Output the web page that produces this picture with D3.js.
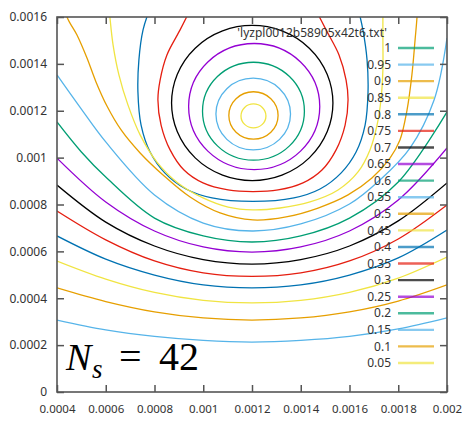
<!DOCTYPE html>
<html>
<head>
<meta charset="utf-8">
<script src="https://cdn.jsdelivr.net/npm/d3@7"></script>
<style>
  body { margin: 0; background: #fff; }
  svg { display: block; }
</style>
</head>
<body>
<svg id="chart" width="462" height="428"></svg>
<script>
// Contour coordinates are written in units of 1e-4 (same units as the axes / 1e-4)
const U = 1e-4;

// Contour levels and legend order
const levels = [0.05, 0.1, 0.15, 0.2, 0.25, 0.3, 0.35, 0.4, 0.45, 0.5,
                0.55, 0.6, 0.65, 0.7, 0.75, 0.8, 0.85, 0.9, 0.95, 1];
const legendLabels = ["1", "0.95", "0.9", "0.85", "0.8", "0.75", "0.7", "0.65", "0.6", "0.55",
                      "0.5", "0.45", "0.4", "0.35", "0.3", "0.25", "0.2", "0.15", "0.1", "0.05"];
const legendTitle = "'lyzpl0012b58905x42t6.txt'";

// gnuplot line-type colours, cycling from the lowest level upward
const colourCycle = ["#f0e442", "#e69f00", "#56b4e9", "#009e73",
                     "#9400d3", "#000000", "#e51e10", "#0072b2"];

// Axis ticks
const xTickValues = [0.0004, 0.0006, 0.0008, 0.001, 0.0012, 0.0014, 0.0016, 0.0018, 0.002];
const xTickLabels = ["0.0004", "0.0006", "0.0008", "0.001", "0.0012", "0.0014", "0.0016", "0.0018", "0.002"];
const yTickValues = [0, 0.0002, 0.0004, 0.0006, 0.0008, 0.001, 0.0012, 0.0014, 0.0016];
const yTickLabels = ["0", "0.0002", "0.0004", "0.0006", "0.0008", "0.001", "0.0012", "0.0014", "0.0016"];

// Closed rings around the minimum: centre x, centre y, radius
const ringLevels = [0.05, 0.1, 0.15, 0.2, 0.25, 0.3];
const ringCx = [12.06, 12.06, 12.05, 12.06, 12.09, 12.01];
const ringCy = [11.78, 11.80, 11.86, 11.98, 12.18, 12.33];
const ringR  = [0.512, 1.01, 1.53, 2.09, 2.69, 3.31];

// Arcs that open through the top edge
const arc035 = [[9.50,16.38],[9.05,15.45],[8.51,14.38],[8.23,13.31],[8.14,12.46],[8.27,11.39],
  [8.64,10.33],[9.21,9.47],[9.99,8.92],[11.02,8.62],[12.04,8.55],[13.07,8.62],[14.09,8.92],
  [14.87,9.47],[15.45,10.33],[15.82,11.39],[15.94,12.46],[15.86,13.31],[15.57,14.38],
  [15.04,15.45],[14.58,16.38]];
const arc040 = [[7.82,16.38],[7.53,15.45],[7.36,14.17],[7.32,12.80],[7.45,11.39],[7.82,10.24],
  [8.43,9.34],[9.29,8.66],[10.36,8.28],[12.04,8.13],[13.72,8.28],[14.79,8.66],[15.65,9.34],
  [16.27,10.24],[16.64,11.39],[16.76,12.80],[16.72,14.17],[16.55,15.45],[16.35,16.38]];
const arc045 = [[6.09,16.94],[6.17,16.00],[6.30,14.81],[6.54,13.53],[6.91,12.25],[7.41,10.97],
  [8.10,9.81],[8.96,8.92],[9.99,8.28],[11.02,7.89],[12.04,7.77],[13.15,7.85],[14.38,8.11],
  [15.53,8.62],[16.35,9.39],[16.84,10.33],[17.13,11.39],[17.29,12.46],[17.37,13.74],
  [17.37,15.02],[17.37,16.00],[17.37,16.94]];
const arc050 = [[4.21,16.94],[4.41,16.00],[4.82,15.23],[5.23,14.25],[5.60,13.23],[6.05,12.20],
  [6.63,11.18],[7.41,10.20],[8.35,9.26],[9.46,8.32],[10.69,7.64],[12.04,7.34],[13.40,7.47],
  [14.71,7.85],[15.94,8.41],[16.92,9.13],[17.66,9.98],[18.07,10.75],[18.36,12.03],
  [18.56,13.53],[18.69,15.02],[18.77,16.00],[18.81,16.94]];

// Steep-walled bowls traced point by point
const bowl055 = [[4,13.53],[5,12.07],[6,10.67],[8,8.41],[10,7.21],[12,6.87],[14,7.17],[16,8.02],
  [17.25,9.05],[18.48,10.41],[19.47,12.46],[20,15.10]];
const bowl060 = [[4,11.52],[5,10.24],[6,9.17],[8,7.42],[10,6.66],[12,6.40],[14,6.66],[16,7.42],
  [18,8.96],[20,11.95]];

// Lower bowls, sampled at fixed x columns
const columnX = [4, 6, 8, 10, 12, 14, 16, 18, 20];
const bowl065 = [9.98, 8.11, 6.87, 6.19, 5.97, 6.19, 6.87, 8.19, 10.41];
const bowl070 = [8.83, 7.25, 6.23, 5.65, 5.46, 5.65, 6.23, 7.30, 8.92];
const bowl075 = [7.72, 6.49, 5.59, 5.08, 4.93, 5.08, 5.59, 6.53, 7.98];
const bowl080 = [6.66, 5.67, 4.99, 4.57, 4.44, 4.57, 4.99, 5.72, 6.91];
const bowl085 = [5.59, 4.82, 4.25, 3.91, 3.80, 3.91, 4.25, 4.86, 5.76];
const bowl090 = [4.44, 3.86, 3.42, 3.16, 3.07, 3.16, 3.42, 3.88, 4.57];
const bowl095 = [3.07, 2.65, 2.37, 2.20, 2.13, 2.20, 2.37, 2.69, 3.16];

const colourFor = lv => colourCycle[Math.round(lv / 0.05 - 1) % colourCycle.length];

const svg = d3.select("#chart");
const plot = { left: 57, top: 17, right: 447, bottom: 392 };

const x = d3.scaleLinear().domain([0.0004, 0.002]).range([plot.left, plot.right]);
const y = d3.scaleLinear().domain([0, 0.0016]).range([plot.bottom, plot.top]);

svg.append("defs").append("clipPath").attr("id", "plotClip")
  .append("rect")
  .attr("x", plot.left).attr("y", plot.top)
  .attr("width", plot.right - plot.left).attr("height", plot.bottom - plot.top);

const curves = svg.append("g").attr("clip-path", "url(#plotClip)")
  .attr("fill", "none").attr("stroke-width", 1.3);

// closed rings
curves.selectAll("ellipse")
  .data(ringLevels.map((lv, i) => ({ lv, cx: ringCx[i] * U, cy: ringCy[i] * U, r: ringR[i] * U })))
  .join("ellipse")
  .attr("cx", d => x(d.cx))
  .attr("cy", d => y(d.cy))
  .attr("rx", d => x(d.cx + d.r) - x(d.cx))
  .attr("ry", d => y(d.cy) - y(d.cy + d.r))
  .attr("stroke", d => colourFor(d.lv));

const line = d3.line()
  .x(d => x(d[0] * U))
  .y(d => y(d[1] * U))
  .curve(d3.curveCatmullRom.alpha(0.5));

const openCurves = [
  { lv: 0.35, pts: arc035 },
  { lv: 0.4, pts: arc040 },
  { lv: 0.45, pts: arc045 },
  { lv: 0.5, pts: arc050 },
  { lv: 0.55, pts: bowl055 },
  { lv: 0.6, pts: bowl060 },
  ...[[0.65, bowl065], [0.7, bowl070], [0.75, bowl075],
      [0.8, bowl080], [0.85, bowl085], [0.9, bowl090], [0.95, bowl095]]
    .map(([lv, ys]) => ({ lv, pts: columnX.map((cx, i) => [cx, ys[i]]) }))
];

curves.selectAll("path")
  .data(openCurves)
  .join("path")
  .attr("d", d => line(d.pts))
  .attr("stroke", d => colourFor(d.lv));

// axes: ticks point inward and are mirrored on top and right
const axisColour = "#555";
const fontFamily = "'Noto Sans', 'Open Sans', sans-serif";

const gLeft = svg.append("g").attr("transform", `translate(${plot.left},0)`)
  .call(d3.axisLeft(y).tickValues(yTickValues).tickSize(-7).tickPadding(10)
    .tickFormat((d, i) => yTickLabels[i]));
const gBottom = svg.append("g").attr("transform", `translate(0,${plot.bottom})`)
  .call(d3.axisBottom(x).tickValues(xTickValues).tickSize(-7).tickPadding(13)
    .tickFormat((d, i) => xTickLabels[i]));
const gTop = svg.append("g").attr("transform", `translate(0,${plot.top})`)
  .call(d3.axisTop(x).tickValues(xTickValues).tickSize(-7).tickFormat(""));
const gRight = svg.append("g").attr("transform", `translate(${plot.right},0)`)
  .call(d3.axisRight(y).tickValues(yTickValues).tickSize(-7).tickFormat(""));

[gLeft, gBottom, gTop, gRight].forEach(g => {
  g.select(".domain").remove();
  g.selectAll(".tick line").attr("stroke", axisColour).attr("stroke-width", 1.5);
  g.selectAll(".tick text").attr("fill", "#333").style("font-family", fontFamily).style("font-size", "12px");
});
gBottom.selectAll(".tick text").style("font-size", "11.5px");

svg.append("rect")
  .attr("x", plot.left).attr("y", plot.top)
  .attr("width", plot.right - plot.left).attr("height", plot.bottom - plot.top)
  .attr("fill", "none").attr("stroke", axisColour).attr("stroke-width", 1.6);

// legend
const legend = svg.append("g").style("font-family", fontFamily).style("font-size", "12px");
legend.append("text")
  .attr("x", 387).attr("y", 33).attr("text-anchor", "end").attr("dy", "0.35em")
  .attr("fill", "#333").text(legendTitle);

const legendLevels = levels.slice().reverse();
const legendY = d3.scalePoint().domain(legendLabels).range([48, 363]);
const rows = legend.selectAll("g.row")
  .data(legendLevels.map((lv, i) => ({ lv, label: legendLabels[i] })))
  .join("g").attr("class", "row")
  .attr("transform", d => `translate(0,${legendY(d.label)})`);
rows.append("text")
  .attr("x", 391).attr("dy", "0.35em").attr("text-anchor", "end")
  .attr("fill", "#333").text(d => d.label);
rows.append("line")
  .attr("x1", 398).attr("x2", 434)
  .attr("stroke", d => colourFor(d.lv)).attr("stroke-width", 2.4).attr("stroke-opacity", 0.7);

// sample-count annotation
const serif = "'Liberation Serif', 'DejaVu Serif', serif";
const note = svg.append("g").attr("fill", "#000").style("font-family", serif);
note.append("text").attr("x", 66).attr("y", 370)
  .style("font-style", "italic").style("font-size", "38px").text("N");
note.append("text").attr("x", 92).attr("y", 378)
  .style("font-style", "italic").style("font-size", "27px").text("s");
note.append("text").attr("x", 119).attr("y", 370)
  .style("font-size", "40px").text("=");
note.append("text").attr("x", 159).attr("y", 370)
  .style("font-size", "40px").text("42");
</script>
</body>
</html>
